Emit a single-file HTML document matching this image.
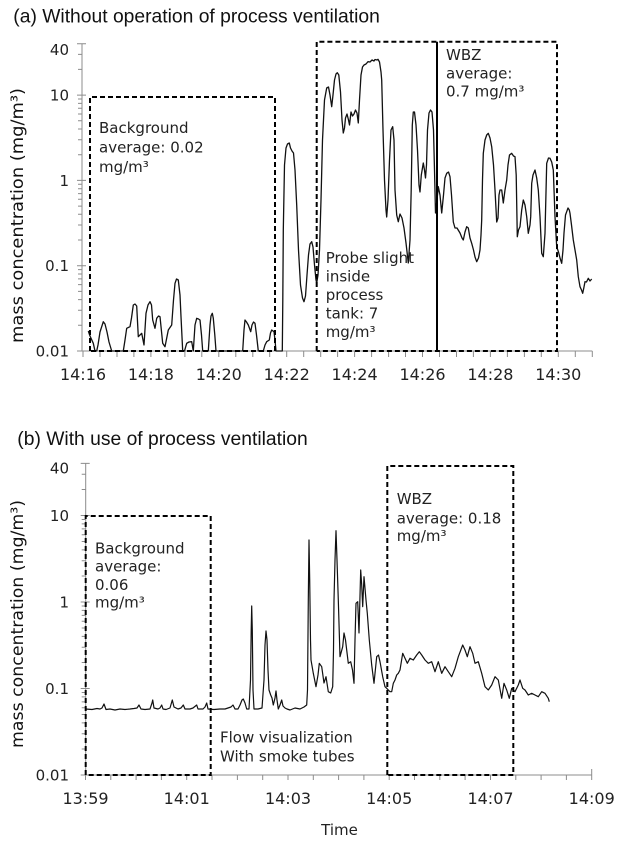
<!DOCTYPE html>
<html><head><meta charset="utf-8"><style>
html,body{margin:0;padding:0;background:#fff;}
svg{display:block;}
.t{font-family:"Liberation Sans",sans-serif;font-size:19.3px;fill:#111;}
.a{font-family:"DejaVu Sans","Liberation Sans",sans-serif;font-size:15px;fill:#222;}
.xl{font-family:"DejaVu Sans","Liberation Sans",sans-serif;font-size:16px;fill:#222;text-anchor:middle;}
.yl{font-family:"DejaVu Sans","Liberation Sans",sans-serif;font-size:15px;fill:#222;text-anchor:end;}
.lab{font-family:"DejaVu Sans","Liberation Sans",sans-serif;font-size:17px;fill:#111;text-anchor:middle;}
</style></head><body>
<svg width="624" height="842" viewBox="0 0 624 842" xmlns="http://www.w3.org/2000/svg">
<rect width="624" height="842" fill="#fff"/>

<!-- ===== Chart (a) ===== -->
<text class="t" x="13.3" y="22.7">(a) Without operation of process ventilation</text>
<text class="lab" transform="translate(23,215.5) rotate(-90)" textLength="255" lengthAdjust="spacingAndGlyphs">mass concentration (mg/m³)</text>

<g stroke="#8c8c8c" stroke-width="1" fill="none">
<path d="M82 43.6V351H592.3"/>
<path d="M78 325.3H82M78 310.3H82M78 299.6H82M78 291.4H82M78 284.6H82M78 278.9H82M78 274H82M78 269.6H82
M78 240H82M78 225H82M78 214.3H82M78 206.1H82M78 199.3H82M78 193.6H82M78 188.7H82M78 184.3H82
M78 154.7H82M78 139.7H82M78 129H82M78 120.8H82M78 114H82M78 108.3H82M78 103.4H82M78 99H82
M78 69.4H82M78 54.4H82"/>
<path d="M77 351H86M77 265.7H86M77 180.4H86M77 95.1H86M77 43.7H86"/>
<path d="M83 351v6M100 351v6M117 351v6M133.9 351v6M150.9 351v6M167.9 351v6M184.9 351v6M201.8 351v6M218.8 351v6M235.8 351v6M252.8 351v6M269.7 351v6M286.7 351v6M303.7 351v6M320.7 351v6M337.6 351v6M354.6 351v6M371.6 351v6M388.6 351v6M405.5 351v6M422.5 351v6M439.5 351v6M456.5 351v6M473.4 351v6M490.4 351v6M507.4 351v6M524.4 351v6M541.3 351v6M558.3 351v6M575.3 351v6M592.3 351v6"/>
</g>

<text class="yl" x="69" y="55">40</text>
<text class="yl" x="69" y="100.6">10</text>
<text class="yl" x="69" y="186">1</text>
<text class="yl" x="69" y="271.2">0.1</text>
<text class="yl" x="69" y="356.5">0.01</text>

<text class="xl" x="83" y="380">14:16</text>
<text class="xl" x="150.9" y="380">14:18</text>
<text class="xl" x="218.8" y="380">14:20</text>
<text class="xl" x="286.7" y="380">14:22</text>
<text class="xl" x="354.6" y="380">14:24</text>
<text class="xl" x="422.5" y="380">14:26</text>
<text class="xl" x="490.4" y="380">14:28</text>
<text class="xl" x="558.3" y="380">14:30</text>

<polyline fill="none" stroke="#111" stroke-width="1.3" stroke-linejoin="round" points="
88.3,331 90,336 93.3,343.3 95,351 96.7,351 98,345 100,332 103.3,321.7 105,324 107,332 109,342 111.7,351 123.3,351 125,340 126.7,328.3 130,326.7 131.5,318 133.3,305 135,304 136.7,306 138.3,336.7 140,335 141.7,333.3 144,345 146,313.3 148,305 150,301.7 151.5,305 152.7,320 155,328.3 156.7,318.3 158.5,316 160,316.7 162.7,343.3 165,346.7 168.3,330 171.7,325 173.5,300 175,283.3 176.5,279 178.3,280 180,295 181,316.7 182.7,351 184.5,351 186.7,343.3 189,342 191.7,341.7 193.3,351 195,325 196.7,318.3 198.5,319 200,320 201.5,335 202.7,351 208.3,351 210,325 211,316 212.3,313.3 213.3,318.3 214.8,335 216,351 242.7,351 244,330 245,320 246.5,322 248.3,325 250.7,331.7 252,325 253.5,322 255,323.3 256.5,335 258.3,351 263.3,351 265,345 266.7,341.7 269.3,340 270.5,333 271.7,330 274,331.7 275,340 276,351 282.3,351 282.8,300 283.3,230 284.5,165 286,148 287.5,144 289.3,143 290.5,148 292,151 293.5,153 295,170 296.7,205 298.5,250 300.5,285 302.5,298 304,301.7 305.5,296 307,275 308.5,255 310,244 311.7,241.7 313,247 314.5,265 316,280 316.7,283 318,275 319.5,250 321,200 322.5,140 324.5,100 326.7,88 328.5,87 330,95 331.7,106.7 333,95 334.5,80 336,74 337.3,72.7 338.8,75 340.5,92 342,120 343.3,133 344.5,128 345.5,118 347,114 348.5,120 349.5,125 351,112 352.5,116 354,114 355.5,110 357,113 358.3,123 359.5,100 361,75 362.5,67 364,65 366,64 368,61.7 370,62 372,60 374,61 375,59.5 377,60 378,59.3 379.5,62 381,72 381.7,80 383,130 384.5,180 386,210 386.7,217 388,200 389.5,160 391,130 392.7,126.7 394,140 395,190 396.7,215 398.3,221.7 400,214 402,218 404,228 406,243 408.3,263 410,240 411.2,190 412.3,125 413.3,112 414.5,112 416,125 417.5,150 419,185 420,192 421.3,175 423.3,163 424.5,170 425.5,178 426.5,165 427.5,130 429,113 430.5,110 432,112 433.5,130 434.5,170 435.5,213 437,200 438.3,186.7 440,195 441.7,213 443.5,195 445,178 446.7,173.3 448.5,172 450,176.7 451.5,195 453.3,222 455,228 457,228 460,233 462,238 463.3,240 465,232 466.7,226.7 468.3,228 470,238 471.7,243.3 473.5,250 475,257 476.7,261.7 478.5,258 480,250 481,235 481.7,220 482.5,180 483.3,153.3 485,140 486.7,135 488.3,133.3 490,138 491.7,146.7 493.5,165 495,190 496.7,222 498,218 499,195 500,190 501.7,190 503.3,203 505,190 506.7,180 508,165 509.5,155 511.7,153.3 513.5,156 515,156.7 516.2,175 517.3,236.7 518.5,230 520,226.7 521.7,210 523.3,200 525,205 526.7,216.7 528.3,233.3 530,225 530.7,216.7 531.7,183.3 533,175 535,170 536.7,178 538.3,190 540,216.7 541.7,253.3 543.3,256.7 545,233.3 546.7,163.3 548.5,158 550,158.3 551.7,162 553.3,170 555,216.7 556.7,246.7 558.5,252 560,258 561.7,263.3 563,250 564,233 565.5,215 566.7,211.7 568,208 569.3,210 570,213.3 571.5,225 573.3,240 575,250 576.7,260 578.3,276.7 580,286.7 581.5,290 582.7,293.3 583.8,288 585,281.7 586.5,282 588.3,278.3 590,281 591.7,279"/>

<g fill="none" stroke="#000" stroke-width="2" stroke-dasharray="5 3">
<path d="M90 351V97H275V351H90"/>
<path d="M316.7 351V41.7H557V351H316.7"/>
</g>
<path d="M437 41.7V351" stroke="#000" stroke-width="2"/>

<text class="a" x="99" y="133">Background</text>
<text class="a" x="99" y="152.5">average: 0.02</text>
<text class="a" x="99" y="172">mg/m³</text>

<text class="a" x="325.7" y="263">Probe slight</text>
<text class="a" x="325.7" y="281.5">inside</text>
<text class="a" x="325.7" y="300">process</text>
<text class="a" x="325.7" y="318.5">tank: 7</text>
<text class="a" x="325.7" y="337">mg/m³</text>

<text class="a" x="446" y="60">WBZ</text>
<text class="a" x="446" y="78.3">average:</text>
<text class="a" x="446" y="96.7">0.7 mg/m³</text>

<!-- ===== Chart (b) ===== -->
<text class="t" x="17.3" y="445">(b) With use of process ventilation</text>
<text class="lab" transform="translate(23,624) rotate(-90)" textLength="248" lengthAdjust="spacingAndGlyphs">mass concentration (mg/m³)</text>

<g stroke="#8c8c8c" stroke-width="1" fill="none">
<path d="M85.7 463.4V775H591.7"/>
<path d="M81.7 749H85.7M81.7 733.7H85.7M81.7 722.9H85.7M81.7 714.5H85.7M81.7 707.7H85.7M81.7 701.9H85.7M81.7 696.9H85.7M81.7 692.5H85.7
M81.7 662.5H85.7M81.7 647.2H85.7M81.7 636.4H85.7M81.7 628H85.7M81.7 621.2H85.7M81.7 615.4H85.7M81.7 610.4H85.7M81.7 606H85.7
M81.7 576H85.7M81.7 560.7H85.7M81.7 549.9H85.7M81.7 541.5H85.7M81.7 534.7H85.7M81.7 528.9H85.7M81.7 523.9H85.7M81.7 519.5H85.7
M81.7 489.5H85.7M81.7 474.2H85.7"/>
<path d="M80.7 775H89.7M80.7 688.5H89.7M80.7 602H89.7M80.7 515.5H89.7M80.7 463.4H89.7"/>
<path d="M85.5 775v5M110.8 775v5M136.1 775v5M161.4 775v5M186.7 775v5M212 775v5M237.4 775v5M262.7 775v5M288 775v5M313.3 775v5M338.6 775v5M363.9 775v5M389.2 775v5M414.5 775v5M439.8 775v5M465.1 775v5M490.5 775v5M515.8 775v5M541.1 775v5M566.4 775v5M591.7 769v11"/>
</g>

<text class="yl" x="69" y="473.3">40</text>
<text class="yl" x="69" y="521">10</text>
<text class="yl" x="69" y="607.5">1</text>
<text class="yl" x="69" y="694">0.1</text>
<text class="yl" x="69" y="780.5">0.01</text>

<text class="xl" x="85.5" y="804">13:59</text>
<text class="xl" x="186.7" y="804">14:01</text>
<text class="xl" x="288" y="804">14:03</text>
<text class="xl" x="389.2" y="804">14:05</text>
<text class="xl" x="490.5" y="804">14:07</text>
<text class="xl" x="591.7" y="804">14:09</text>

<polyline fill="none" stroke="#111" stroke-width="1.2" stroke-linejoin="round" points="
85.5,709 92,709.5 97,708.5 100,709 102,708 104,704 106,709.5 110,709 115,710 120,709 125,709.5 130,709 134,708.5 137,708 139,705 141,709 145,709.5 150,709 152,703 152.7,700 154,708 158,709 160,708 161.7,705 163,709 166,709.5 170,708 172.3,700 174,707 178,709 181,708 183.3,705 185,709 190,709 193,708 196.7,705 198,709 203,709 205,707 206.7,703 208,709 214,709.5 220,709 225,709 228,708 231,707 233,705 235,709 238,709 240,705 242,700 243.3,699 245,703 246.7,709 249,709 250.5,680 251.2,630 251.7,606 252.3,630 253,690 254,709 258,709 262,708 264,680 265,645 266,631 267,640 268,670 269,690 270.7,695 272,698 273.3,705 275,698 276,691 277,700 278.3,709 280,705 281.7,700 283,706 285,708 287,709 290,710 295,708 300,709 304,707 306.7,705 307.5,690 308.3,600 309,540 309.7,580 310.5,640 311,660 313.3,673.3 316,686.7 318,675 319.3,663.3 321.7,666.7 324,683 326,676.7 328.3,691.7 330.7,693 332.7,686.7 333.5,650 334,600 335,560 336,530.7 337,560 338.3,600 340,656.7 342.7,646.7 344,633 345.5,640 346.7,650 348.3,663.3 350.7,661.7 352.5,670 354,683.3 355,640 356,603.3 357.7,601.7 359,633 360.7,570 361.7,585 362.7,606.7 364,576.7 366,600 367.3,613.3 369.3,640 371.7,665 374,683.3 376.7,656.7 378.5,655 380,661.7 382.7,676.7 385,686.7 386.7,688.3 388.3,690 390,691.7 391.7,691.7 393.3,683.3 395,680 396.7,675 398.3,673.3 400,670 402.7,653.3 405,658.3 407.3,663.3 410,658.3 413.3,660 416.7,655 419.3,651.7 421.7,655 425,660 428.3,663.3 431.7,661.7 435,671.7 438.3,661.7 441.7,673.3 445,666.7 448.3,671.7 451.7,676.7 455,668.3 458.3,656.7 462.7,645 465,650 467.3,656.7 470,646.7 472.7,653.3 475,663.3 478.3,661.7 481.7,673.3 485,686.7 488.3,690 491.7,685 495,676.7 498.3,680 501.7,698.3 504,683.3 506.7,690 509.3,698.3 511.7,688.3 515,691.7 518.3,685 520,680 522.7,688.3 525,690 528.3,695 531.7,693.3 535,695 538.3,696.7 541.7,691.7 545,693.3 548.3,698.3 549.3,701.7"/>

<g fill="none" stroke="#000" stroke-width="2" stroke-dasharray="5 3">
<path d="M85.7 775V516H210.7V775H85.7"/>
<path d="M387.3 775V466H513.3V775H387.3"/>
</g>

<text class="a" x="95" y="553.3">Background</text>
<text class="a" x="95" y="571.7">average:</text>
<text class="a" x="95" y="590">0.06</text>
<text class="a" x="95" y="607.7">mg/m³</text>

<text class="a" x="396.7" y="504">WBZ</text>
<text class="a" x="396.7" y="523.3">average: 0.18</text>
<text class="a" x="396.7" y="541">mg/m³</text>

<text class="a" x="220" y="742.3">Flow visualization</text>
<text class="a" x="220" y="761.7">With smoke tubes</text>

<text class="a" x="339.5" y="835" text-anchor="middle" style="font-size:15px">Time</text>
</svg>
</body></html>
